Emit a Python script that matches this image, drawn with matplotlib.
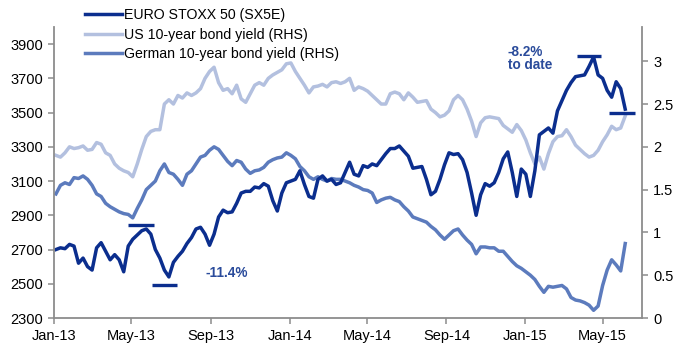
import numpy as np
import pandas as pd
import matplotlib
matplotlib.use("Agg")
import matplotlib.pyplot as plt
import matplotlib.dates as mdates

# ---------------------------------------------------------------------
# Data (weekly readings, Jan-2013 .. Jun-2015)
# ---------------------------------------------------------------------
dates = pd.date_range("2013-01-04", periods=127, freq="7D")

sx5e = [
    2700, 2710, 2705, 2730, 2720, 2620, 2650, 2600, 2580, 2710,
    2740, 2690, 2640, 2670, 2640, 2570, 2720, 2760, 2785, 2810,
    2820, 2790, 2700, 2650, 2580, 2540, 2625, 2660, 2690, 2735,
    2770, 2820, 2830, 2790, 2725, 2790, 2890, 2930, 2915, 2920,
    2970, 3030, 3040, 3040, 3065, 3060, 3085, 3070, 2985, 2925,
    3030, 3090, 3100, 3110, 3160, 3080, 3010, 3000, 3110, 3130,
    3100, 3110, 3080, 3090, 3150, 3210, 3140, 3130, 3190, 3180,
    3200, 3190, 3225, 3260, 3290, 3290, 3305, 3275, 3245, 3175,
    3180, 3185, 3110, 3020, 3040, 3110, 3195, 3265, 3255, 3260,
    3225, 3150, 3030, 2900, 3020, 3085, 3070, 3090, 3150, 3230,
    3270, 3150, 3010, 3170, 3140, 3010, 3160, 3370, 3390, 3410,
    3380, 3510, 3570, 3630, 3675, 3710, 3715, 3720, 3770, 3825,
    3720, 3700, 3630, 3590, 3680, 3640, 3520,
]

us10y = [
    1.90, 1.88, 1.93, 2.00, 1.98, 1.99, 2.01, 1.96, 1.97, 2.05,
    2.03, 1.93, 1.90, 1.80, 1.75, 1.72, 1.70, 1.65, 1.80, 1.97,
    2.12, 2.18, 2.20, 2.20, 2.50, 2.55, 2.50, 2.60, 2.57, 2.63,
    2.60, 2.63, 2.68, 2.80, 2.88, 2.93, 2.75, 2.66, 2.68, 2.62,
    2.72, 2.56, 2.52, 2.62, 2.72, 2.75, 2.72, 2.80, 2.84, 2.87,
    2.90, 2.97, 2.98, 2.88, 2.80, 2.72, 2.63, 2.70, 2.71, 2.73,
    2.70, 2.75, 2.76, 2.74, 2.76, 2.80, 2.66, 2.70, 2.68, 2.65,
    2.60, 2.55, 2.50, 2.50, 2.62, 2.64, 2.62, 2.55, 2.63, 2.58,
    2.52, 2.53, 2.54, 2.44, 2.40, 2.35, 2.37, 2.42, 2.55, 2.60,
    2.55, 2.44, 2.30, 2.12, 2.28, 2.34, 2.35, 2.34, 2.33, 2.25,
    2.21, 2.17, 2.26, 2.19, 2.08, 1.93, 1.80, 1.88, 1.74, 1.92,
    2.06, 2.12, 2.13, 2.20, 2.12, 2.02, 1.97, 1.92, 1.88, 1.90,
    1.96, 2.06, 2.14, 2.24, 2.20, 2.22, 2.36,
]

de10y = [
    1.45, 1.55, 1.58, 1.56, 1.64, 1.63, 1.66, 1.62, 1.55, 1.45,
    1.42, 1.34, 1.30, 1.27, 1.24, 1.22, 1.21, 1.17, 1.28, 1.38,
    1.50, 1.55, 1.60, 1.72, 1.80, 1.70, 1.68, 1.62, 1.55, 1.68,
    1.72, 1.80, 1.88, 1.90, 1.96, 2.00, 1.97, 1.90, 1.83, 1.78,
    1.84, 1.82, 1.74, 1.69, 1.72, 1.73, 1.76, 1.82, 1.85, 1.87,
    1.88, 1.93, 1.90, 1.86, 1.77, 1.72, 1.65, 1.62, 1.65, 1.62,
    1.60, 1.63, 1.62, 1.62, 1.60, 1.58, 1.55, 1.53, 1.50, 1.49,
    1.46, 1.35, 1.38, 1.40, 1.41, 1.38, 1.36, 1.30, 1.25, 1.18,
    1.16, 1.14, 1.12, 1.07, 1.03, 0.97, 0.92, 0.97, 1.02, 1.04,
    0.97, 0.91, 0.86, 0.75, 0.83, 0.83, 0.82, 0.82, 0.78, 0.78,
    0.72, 0.66, 0.61, 0.58, 0.54, 0.50, 0.45, 0.37, 0.30, 0.37,
    0.36, 0.37, 0.38, 0.34, 0.24, 0.21, 0.20, 0.18, 0.15, 0.09,
    0.14, 0.38, 0.56, 0.68, 0.62, 0.55, 0.87,
]

# peak / trough markers on the SX5E line: (level, start, end)
caps = [
    (2843, "2013-04-26", "2013-06-05"),
    (2493, "2013-06-02", "2013-07-11"),
    (3830, "2015-03-22", "2015-04-29"),
    (3496, "2015-05-11", "2015-06-20"),
]

tick_dates = ["2013-01-01", "2013-05-01", "2013-09-01", "2014-01-01",
              "2014-05-01", "2014-09-01", "2015-01-01", "2015-05-01"]

# ---------------------------------------------------------------------
# Style
# ---------------------------------------------------------------------
plt.rcParams["font.family"] = ["Liberation Sans", "DejaVu Sans"]
plt.rcParams["font.size"] = 10.5

c_sx5e = "#0B2E8E"
c_us = "#B3C0DF"
c_de = "#5C7BBD"
c_txt = "#2A4B9B"
c_axis = "#8C8C8C"
lw = 2.5

fig = plt.figure(figsize=(6.8, 3.51), dpi=100)
ax = fig.add_axes([54 / 680, 1 - 318 / 351, (642 - 54) / 680, (318 - 27) / 351])
ax2 = ax.twinx()
ax.set_zorder(ax2.get_zorder() + 1)
ax.patch.set_visible(False)

# ---------------------------------------------------------------------
# Lines
# ---------------------------------------------------------------------
l_us, = ax2.plot(dates, us10y, color=c_us, lw=lw, solid_joinstyle="round")
l_de, = ax2.plot(dates, de10y, color=c_de, lw=lw, solid_joinstyle="round")
l_sx, = ax.plot(dates, sx5e, color=c_sx5e, lw=lw, solid_joinstyle="round")

for lvl, d0, d1 in caps:
    ax.hlines(lvl, pd.Timestamp(d0), pd.Timestamp(d1), color=c_sx5e, lw=2.4)

ax.text(pd.Timestamp("2013-08-23"), 2565, "-11.4%", color=c_txt,
        fontsize=9.8, fontweight="bold", va="center")
ax.text(pd.Timestamp("2014-12-05"), 3817, "-8.2%\nto date", color=c_txt,
        fontsize=9.8, fontweight="bold", va="center", linespacing=0.95)

# ---------------------------------------------------------------------
# Axes
# ---------------------------------------------------------------------
ax.set_xlim(pd.Timestamp("2013-01-01"), pd.Timestamp("2015-07-01"))
ax.set_ylim(2300, 4000)
ax.set_yticks(np.arange(2300, 4000, 200))
ax2.set_ylim(0, 3.4)
ax2.set_yticks([0, 0.5, 1, 1.5, 2, 2.5, 3])
ax2.set_yticklabels(["0", "0.5", "1", "1.5", "2", "2.5", "3"])

ax.set_xticks([pd.Timestamp(d) for d in tick_dates])
ax.xaxis.set_major_formatter(mdates.DateFormatter("%b-%y"))

for a in (ax, ax2):
    a.spines["top"].set_visible(False)
    for s in ("left", "right", "bottom"):
        a.spines[s].set_color(c_axis)
        a.spines[s].set_linewidth(1.3)
    a.tick_params(colors=c_axis, labelcolor="black", length=4, width=1.1, pad=4)
ax.spines["right"].set_visible(False)
ax2.spines["left"].set_visible(False)
ax2.spines["bottom"].set_visible(False)

# ---------------------------------------------------------------------
# Legend
# ---------------------------------------------------------------------
fig.legend([l_sx, l_us, l_de],
           ["EURO STOXX 50 (SX5E)", "US 10-year bond yield (RHS)",
            "German 10-year bond yield (RHS)"],
           loc="upper left", bbox_to_anchor=(85 / 680, 1 - 8 / 351),
           frameon=False, borderpad=0, borderaxespad=0, handlelength=2.6,
           handletextpad=0.15, labelspacing=0.4, fontsize=10.2)

fig.savefig("out.png", dpi=100)
